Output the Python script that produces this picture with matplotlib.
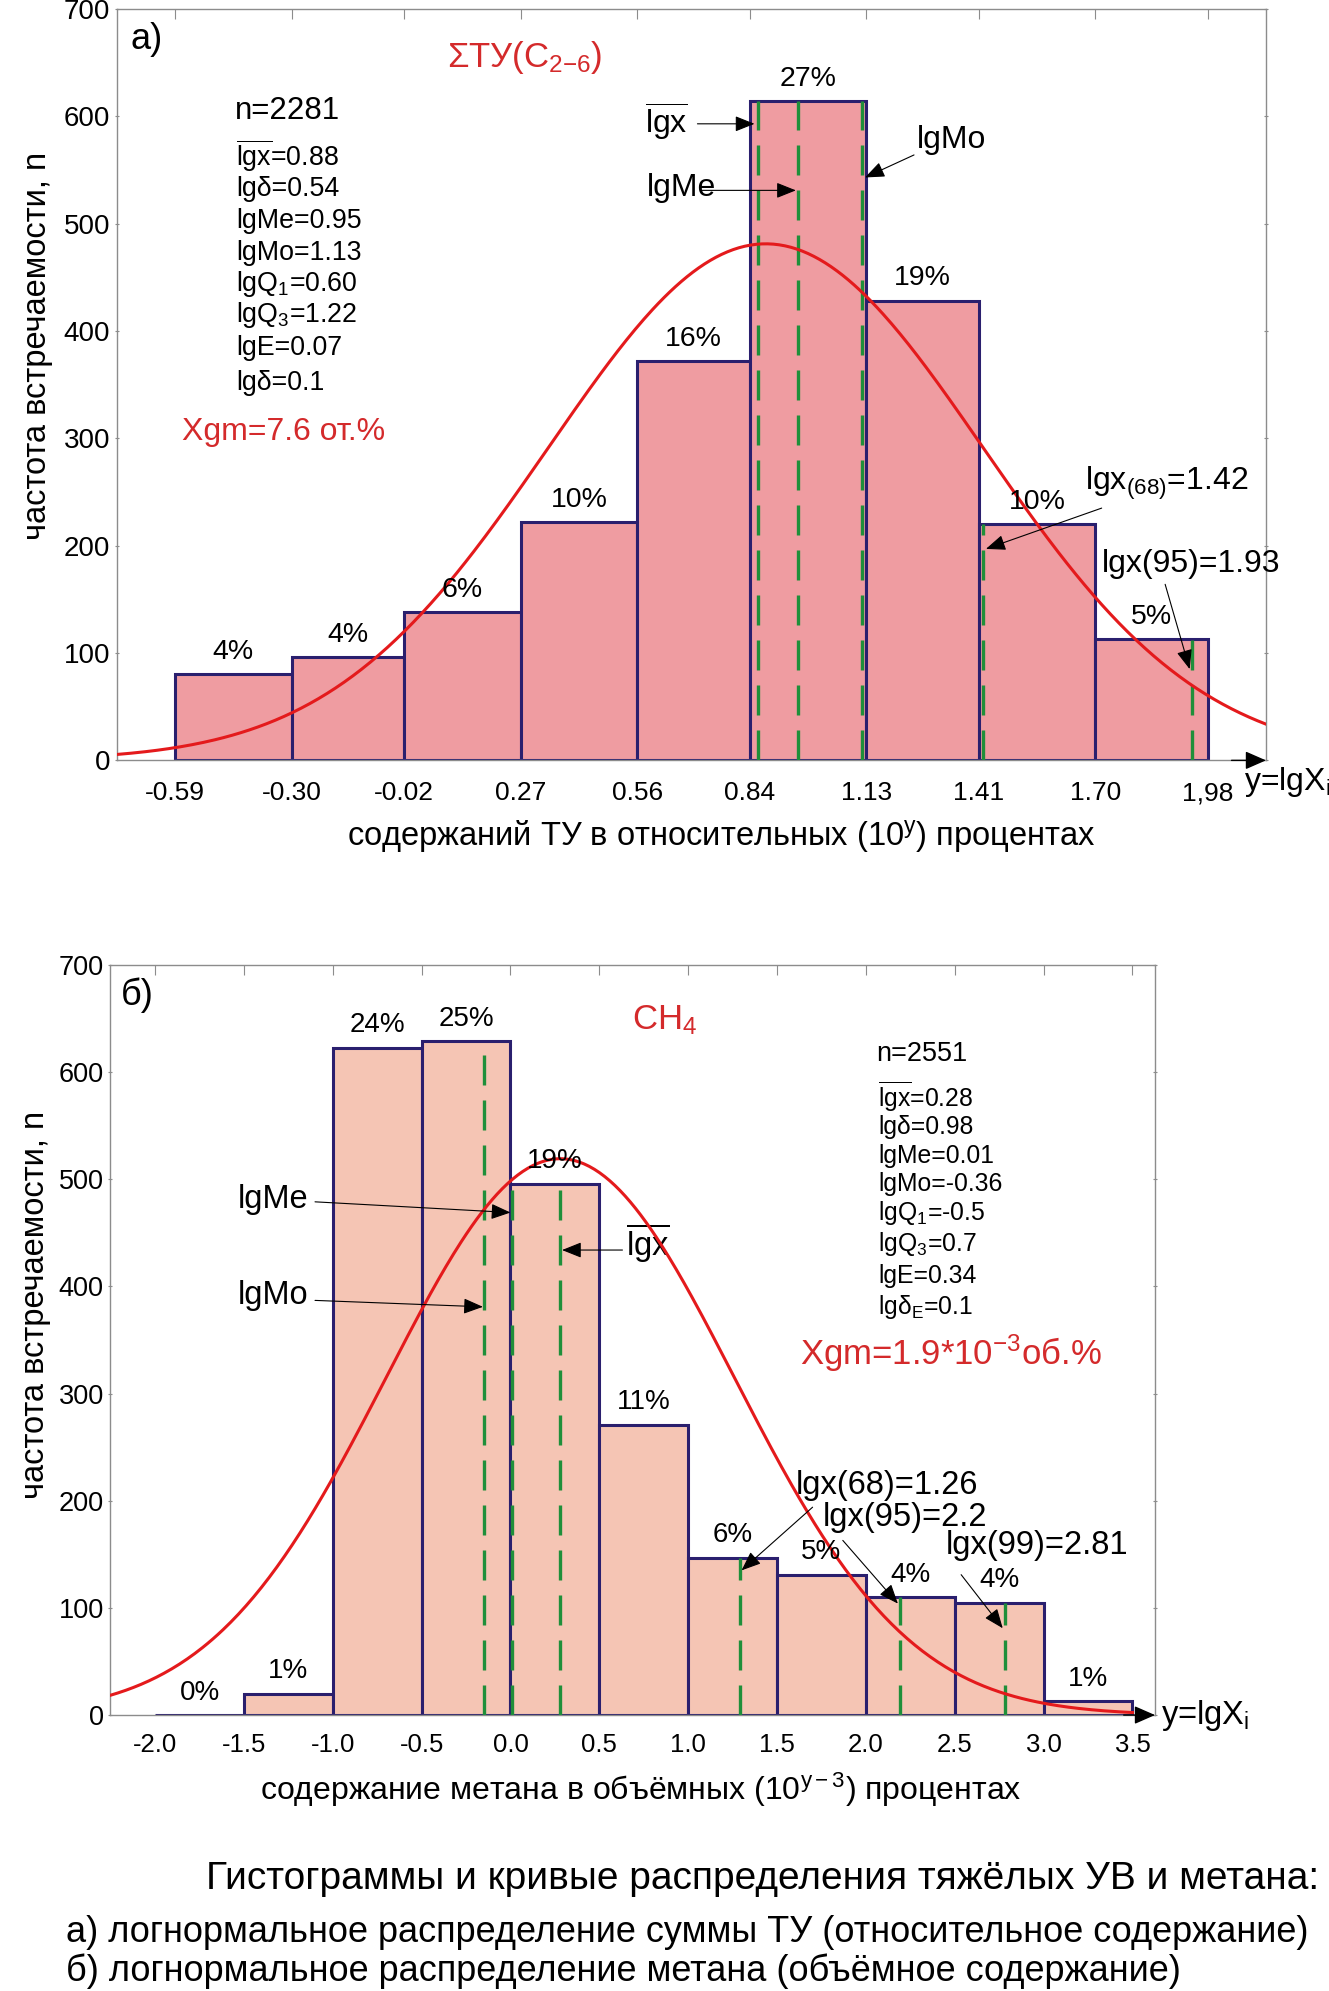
import numpy as np
import matplotlib
matplotlib.use('Agg')
import matplotlib.pyplot as plt

plt.rcParams['font.family'] = ['Liberation Sans', 'DejaVu Sans']
plt.rcParams['mathtext.fontset'] = 'custom'
plt.rcParams['mathtext.rm'] = 'Liberation Sans'
plt.rcParams['mathtext.it'] = 'Liberation Sans'
plt.rcParams['mathtext.bf'] = 'Liberation Sans:bold'
plt.rcParams['mathtext.sf'] = 'Liberation Sans'

# ---------------- data: panel a (sum of heavy HC) ----------------
a_edges = [-0.59, -0.30, -0.02, 0.27, 0.56, 0.84, 1.13, 1.41, 1.70, 1.98]
a_counts = [80, 96, 138, 222, 372, 614, 428, 220, 113]
a_pct = ['4%', '4%', '6%', '10%', '16%', '27%', '19%', '10%', '5%']
a_ticklabels = ['-0.59', '-0.30', '-0.02', '0.27', '0.56', '0.84', '1.13', '1.41', '1.70', '1,98']
a_n = 2281
a_mean = 0.88
a_sd = 0.54
a_marks = [0.86, 0.96, 1.12, 1.42, 1.94]
a_stats = [r'$\overline{\mathrm{lgx}}$=0.88', 'lgδ=0.54', 'lgMe=0.95', 'lgMo=1.13',
           'lgQ$_1$=0.60', 'lgQ$_3$=1.22', 'lgE=0.07', 'lgδ=0.1']

# ---------------- data: panel b (methane) ----------------
b_edges = [-2.0, -1.5, -1.0, -0.5, 0.0, 0.5, 1.0, 1.5, 2.0, 2.5, 3.0, 3.5]
b_counts = [0, 20, 623, 629, 496, 271, 147, 131, 110, 105, 13]
b_pct = ['0%', '1%', '24%', '25%', '19%', '11%', '6%', '5%', '4%', '4%', '1%']
b_ticklabels = ['-2.0', '-1.5', '-1.0', '-0.5', '0.0', '0.5', '1.0', '1.5', '2.0', '2.5', '3.0', '3.5']
b_n = 2551
b_mean = 0.28
b_sd = 0.98
b_marks = [-0.15, 0.01, 0.28, 1.29, 2.19, 2.78]
b_stats = [r'$\overline{\mathrm{lgx}}$=0.28', 'lgδ=0.98', 'lgMe=0.01', 'lgMo=-0.36',
           'lgQ$_1$=-0.5', 'lgQ$_3$=0.7', 'lgE=0.34', 'lgδ$_\\mathrm{E}$=0.1']

y_ticks = [0, 100, 200, 300, 400, 500, 600, 700]

# ---------------- styles ----------------
EDGE = '#2a1f6e'
FILL_A = '#ef9ca1'
FILL_B = '#f5c5b4'
RED_LINE = '#e41a1c'
RED_TXT = '#d42a2b'
GREEN = '#1f8f3a'
SPINE = '#8c8c8c'

fig = plt.figure(figsize=(13.29, 19.91), dpi=100)
ax1 = fig.add_axes([0.0879, 0.6181, 0.8647, 0.3774])
ax2 = fig.add_axes([0.0830, 0.1386, 0.7861, 0.3767])


def arrow(ax, start, tip):
    ax.annotate('', xy=tip, xytext=start,
                arrowprops=dict(arrowstyle='-|>,head_length=0.75,head_width=0.3',
                                color='black', lw=0.8, shrinkA=0, shrinkB=0,
                                mutation_scale=16),
                annotation_clip=False, zorder=6)


def panel(ax, edges, counts, pct, fill, xlim, ticklabels, n, mean, sd, marks,
          curve_end, tick_fs, pad):
    edges = np.asarray(edges)
    counts = np.asarray(counts)
    widths = np.diff(edges)
    ax.bar(edges[:-1], counts, width=widths, align='edge', color=fill,
           edgecolor=EDGE, linewidth=2.2, zorder=2)
    # percentage labels
    for xl, w, c, p in zip(edges[:-1], widths, counts, pct):
        ax.text(xl + w / 2, c + 21, p, ha='center', va='center', fontsize=tick_fs + 1.5,
                zorder=5)
    # green dashed marks (up to the top of the bar that contains them)
    idx = np.clip(np.searchsorted(edges, marks, side='left') - 1, 0, len(counts) - 1)
    ax.vlines(marks, 0, counts[idx], colors=GREEN, linestyles=(0, (9, 4.5)),
              linewidth=2.4, zorder=3)
    # fitted normal curve
    bw = widths.mean()
    xs = np.linspace(xlim[0], curve_end, 400)
    ys = n * bw / (sd * np.sqrt(2 * np.pi)) * np.exp(-0.5 * ((xs - mean) / sd) ** 2)
    ax.plot(xs, ys, color=RED_LINE, lw=2.2, zorder=4)

    ax.set_xlim(*xlim)
    ax.set_ylim(0, 700)
    ax.set_xticks(edges)
    ax.set_xticklabels(ticklabels)
    ax.set_yticks(y_ticks)
    ax.tick_params(axis='x', bottom=False, top=True, direction='in', length=7,
                   color=SPINE, labelsize=tick_fs, pad=pad)
    ax.tick_params(axis='y', left=True, right=True, labelsize=tick_fs + 1, color=SPINE,
                   pad=3)
    for t in ax.yaxis.get_major_ticks():
        t.tick1line.set_markersize(4)
        t.tick2line.set_markersize(7)
    ax.yaxis.set_tick_params(which='major', direction='inout')
    for s in ax.spines.values():
        s.set_color(SPINE)
        s.set_linewidth(1.0)
    # arrow at the end of x axis
    ax.annotate('', xy=(1.0, 0), xycoords=('axes fraction', 'data'),
                xytext=(0.97, 0), textcoords=('axes fraction', 'data'),
                arrowprops=dict(arrowstyle='-|>,head_length=0.8,head_width=0.35',
                                color='black', lw=1.0, shrinkA=0, shrinkB=0,
                                mutation_scale=16),
                annotation_clip=False, zorder=6)


# ---------------- panel a ----------------
panel(ax1, a_edges, a_counts, a_pct, FILL_A, (-0.735, 2.125), a_ticklabels,
      a_n, a_mean, a_sd, a_marks, 2.125, 19, 15)

ax1.text(-0.70, 672, 'а)', fontsize=26, va='center', ha='left')
ax1.text(0.086, 655, 'ΣТУ(C$_{2\\mathrm{-}6}$)', fontsize=25, color=RED_TXT, va='center')
ax1.text(-0.441, 605, f'n={a_n}', fontsize=22.5, va='center')
for yv, s in zip([563, 532, 502, 473, 444, 415, 384, 352], a_stats):
    ax1.text(-0.438, yv, s, fontsize=19.3, va='center')
ax1.text(-0.574, 306, 'Xgm=7.6 от.%', fontsize=23, color=RED_TXT, va='center')

ax1.text(0.633, 595, r'$\overline{\mathrm{lgx}}$', fontsize=23, ha='center', va='center')
arrow(ax1, (0.71, 593), (0.852, 593))
ax1.text(0.670, 533, 'lgMe', fontsize=23, ha='center', va='center')
arrow(ax1, (0.72, 531), (0.955, 531))
ax1.text(1.255, 578, 'lgMo', fontsize=23, ha='left', va='center')
arrow(ax1, (1.249, 564), (1.127, 543))
ax1.text(1.675, 258, 'lgx$_{(68)}$=1.42', fontsize=23, ha='left', va='center')
arrow(ax1, (1.716, 235), (1.428, 197))
ax1.text(1.716, 183, 'lgx(95)=1.93', fontsize=23, ha='left', va='center')
arrow(ax1, (1.874, 164), (1.935, 85))
ax1.text(2.07, -20, 'y=lgX$_\\mathrm{i}$', fontsize=23, ha='left', va='center',
         clip_on=False)

# ---------------- panel b ----------------
panel(ax2, b_edges, b_counts, b_pct, FILL_B, (-2.252, 3.627), b_ticklabels,
      b_n, b_mean, b_sd, b_marks, 3.5, 18.5, 13)

ax2.text(-2.19, 672, 'б)', fontsize=26, va='center', ha='left')
ax2.text(0.686, 649, 'CH$_4$', fontsize=25, color=RED_TXT, va='center')
ax2.text(2.057, 617, f'n={b_n}', fontsize=19.5, va='center')
for yv, s in zip([577, 549, 522, 496, 469, 440, 410, 381], b_stats):
    ax2.text(2.07, yv, s, fontsize=17.8, va='center')
ax2.text(1.63, 338, 'Xgm=1.9*10$^{-3}$об.%', fontsize=25, color=RED_TXT, va='center')

ax2.text(-1.536, 481, 'lgMe', fontsize=23.5, ha='left', va='center')
arrow(ax2, (-1.1, 479), (0.0, 469))
ax2.text(-1.536, 392, 'lgMo', fontsize=23.5, ha='left', va='center')
arrow(ax2, (-1.1, 387), (-0.155, 381))
ax2.text(0.65, 440, r'$\overline{\mathrm{lgx}}$', fontsize=23.5, ha='left', va='center')
arrow(ax2, (0.63, 434), (0.29, 434))
ax2.text(1.607, 214, 'lgx(68)=1.26', fontsize=23.5, ha='left', va='center')
arrow(ax2, (1.70, 194), (1.30, 135))
ax2.text(1.757, 184, 'lgx(95)=2.2', fontsize=23.5, ha='left', va='center')
arrow(ax2, (1.87, 163), (2.18, 104))
ax2.text(2.45, 158, 'lgx(99)=2.81', fontsize=23.5, ha='left', va='center')
arrow(ax2, (2.536, 131), (2.77, 81))
ax2.text(3.66, 0, 'y=lgX$_\\mathrm{i}$', fontsize=23.5, ha='left', va='center',
         clip_on=False)

# ---------------- axis labels ----------------
fig.text(0.5425, 0.580, 'содержаний ТУ в относительных (10$^\\mathrm{y}$) процентах',
         fontsize=23.5, ha='center', va='center')
fig.text(0.482, 0.101, 'содержание метана в объёмных (10$^{\\mathrm{y-3}}$) процентах',
         fontsize=23, ha='center', va='center')
fig.text(0.028, 0.826, 'частота встречаемости, n', fontsize=23.5, rotation=90,
         ha='center', va='center')
fig.text(0.027, 0.3445, 'частота встречаемости, n', fontsize=23.5, rotation=90,
         ha='center', va='center')

# ---------------- caption ----------------
fig.text(0.155, 0.0563, 'Гистограммы и кривые распределения тяжёлых УВ и метана:',
         fontsize=28, ha='left', va='center')
fig.text(0.0497, 0.0296, 'а) логнормальное распределение суммы ТУ (относительное содержание)',
         fontsize=26, ha='left', va='center')
fig.text(0.0497, 0.0100, 'б) логнормальное распределение метана (объёмное содержание)',
         fontsize=26, ha='left', va='center')

fig.savefig('out.png', dpi=100)
